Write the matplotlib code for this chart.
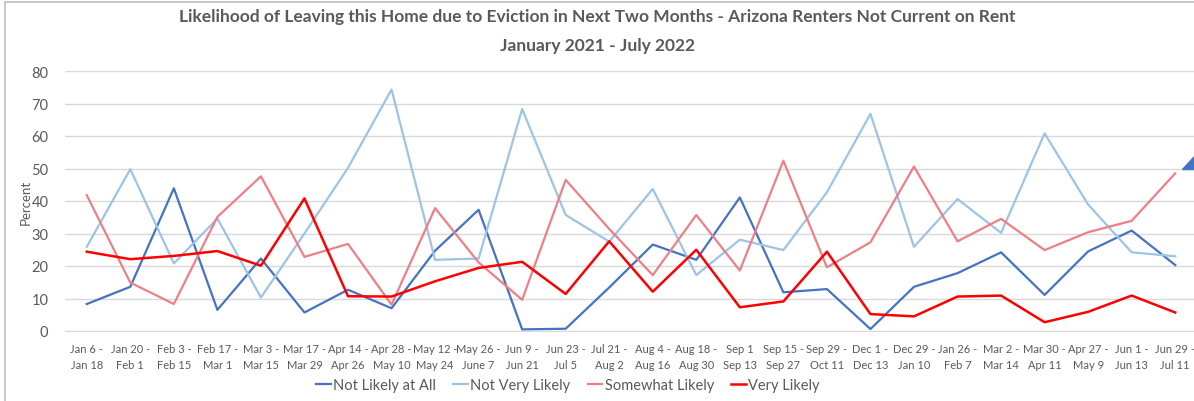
import numpy as np
import matplotlib
matplotlib.use("Agg")
import matplotlib.pyplot as plt
from matplotlib.patches import Polygon, Rectangle

plt.rcParams['font.family'] = ['Lato', 'DejaVu Sans']

# periods (two-line tick labels)
periods = ["Jan 6 -\nJan 18", "Jan 20 -\nFeb 1", "Feb 3 -\nFeb 15", "Feb 17 -\nMar 1",
           "Mar 3 -\nMar 15", "Mar 17 -\nMar 29", "Apr 14 -\nApr 26", "Apr 28 -\nMay 10",
           "May 12 -\nMay 24", "May 26 -\nJune 7", "Jun 9 -\nJun 21", "Jun 23 -\nJul 5",
           "Jul 21 -\nAug 2", "Aug 4 -\nAug 16", "Aug 18 -\nAug 30", "Sep 1\nSep 13",
           "Sep 15 -\nSep 27", "Sep 29 -\nOct 11", "Dec 1 -\nDec 13", "Dec 29 -\nJan 10",
           "Jan 26 -\nFeb 7", "Mar 2 -\nMar 14", "Mar 30 -\nApr 11", "Apr 27 -\nMay 9",
           "Jun 1 -\nJun 13", "Jun 29 -\nJul 11"]

not_likely_at_all = [8.3, 13.6, 43.9, 6.5, 22.3, 5.7, 12.7, 7.0, 24.7, 37.3,
                     0.5, 0.7, 13.4, 26.6, 21.9, 41.1, 11.9, 12.9, 0.6, 13.6,
                     17.8, 24.2, 11.1, 24.5, 30.9, 20.3]
not_very_likely = [25.9, 49.8, 20.8, 34.6, 10.3, 30.0, 50.2, 74.3, 21.9, 22.3,
                   68.3, 35.7, 27.5, 43.7, 17.2, 28.1, 24.9, 42.7, 66.8, 25.9,
                   40.6, 30.2, 60.8, 38.9, 24.2, 23.0]
somewhat_likely = [41.8, 14.9, 8.3, 35.1, 47.6, 22.8, 26.8, 8.1, 37.8, 21.1,
                   9.6, 46.5, 31.4, 17.2, 35.7, 18.6, 52.4, 19.6, 27.3, 50.6,
                   27.6, 34.5, 24.9, 30.4, 33.9, 48.5]
very_likely = [24.4, 22.1, 23.1, 24.6, 20.1, 40.8, 10.7, 10.6, 15.3, 19.4,
               21.3, 11.4, 27.6, 12.1, 25.0, 7.3, 9.1, 24.4, 5.2, 4.5,
               10.6, 10.9, 2.7, 5.9, 10.9, 5.7]

W, H = 1194, 402
fig = plt.figure(figsize=(W / 100, H / 100), dpi=100)

# chart border (cropped on right/bottom)
fig.patches.append(Rectangle((5 / W, -0.1), 1.2, (H - 3) / H + 0.1, transform=fig.transFigure,
                             fill=False, edgecolor='#BFBFBF', linewidth=1.2))

ax = fig.add_axes([65 / W, 70 / H, (1197 - 65) / W, 260 / H])
x = np.arange(len(periods))
ax.plot(x, not_likely_at_all, color='#4472C4', lw=1.6, label='Not Likely at All')
ax.plot(x, not_very_likely, color='#9DC3E6', lw=1.6, label='Not Very Likely')
ax.plot(x, somewhat_likely, color='#EE7F86', lw=1.6, label='Somewhat Likely')
ax.plot(x, very_likely, color='#FF0000', lw=1.8, label='Very Likely')

ax.set_xlim(-0.5, len(periods) - 0.5)
ax.set_ylim(0, 80)
ax.set_yticks(range(0, 81, 10))
ax.set_xticks(x)
ax.set_xticklabels(periods, fontsize=8, color='#595959', linespacing=1.5)
ax.tick_params(axis='y', labelsize=10.5, colors='#595959', length=0, pad=12)
ax.tick_params(axis='x', length=0, pad=9)
ax.grid(axis='y', color='#D9D9D9', lw=1)
ax.set_axisbelow(True)
for s in ['top', 'right', 'left']:
    ax.spines[s].set_visible(False)
ax.spines['bottom'].set_color('#D9D9D9')
ax.set_ylabel('Percent', fontsize=9.5, color='#595959')
ax.yaxis.set_label_coords(-33 / 1132, 0.5)

fig.text(0.5, 1 - 17 / H, 'Likelihood of Leaving this Home due to Eviction in Next Two Months - Arizona Renters Not Current on Rent',
         ha='center', va='center', fontsize=12.5, fontweight='bold', color='#595959')
fig.text(0.5, 1 - 46 / H, 'January 2021 - July 2022',
         ha='center', va='center', fontsize=12.5, fontweight='bold', color='#595959')

fig.legend(loc='center', bbox_to_anchor=(568 / W, 1 - 386 / H), ncol=4, frameon=False,
           fontsize=10.5, handlelength=1.0, handletextpad=0.15, columnspacing=1.2,
           labelcolor='#595959')

# blue marker shape cut off at the right edge
fig.patches.append(Polygon([(1182 / W, 1 - 170 / H), (1.0, 1 - 170 / H), (1.0, 1 - 157 / H)],
                           closed=True, transform=fig.transFigure, color='#4472C4'))

fig.savefig('out.png', dpi=100)
